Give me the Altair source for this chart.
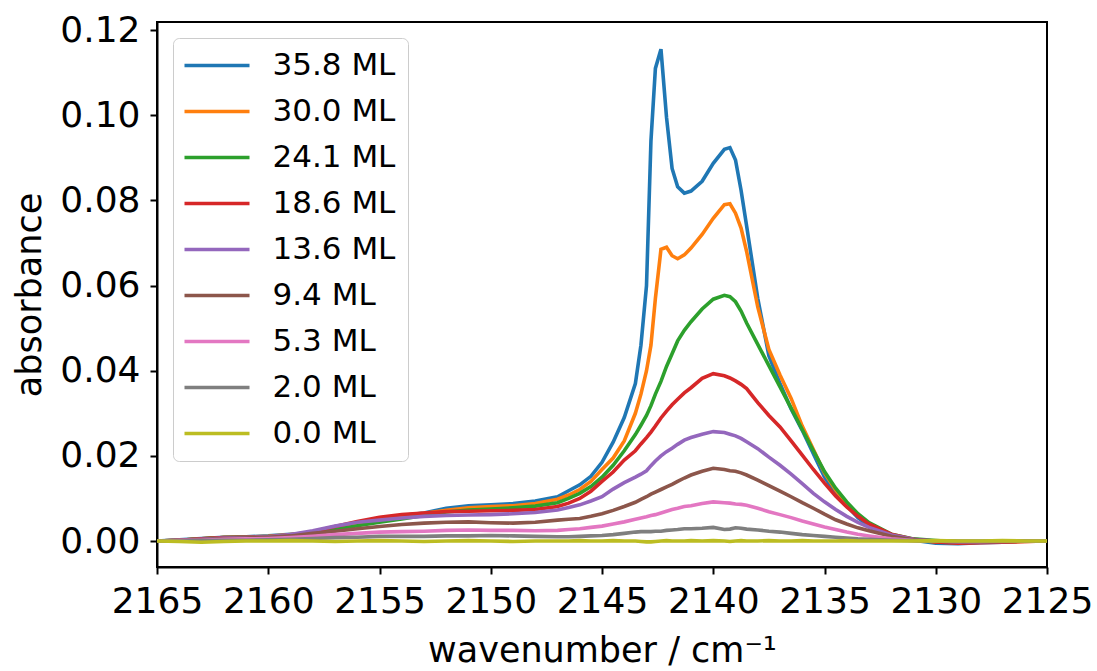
import altair as alt
import pandas as pd

wavenumber = [2165, 2164, 2163, 2162, 2161, 2160, 2159, 2158, 2157, 2156, 2155, 2154, 2153, 2152, 2151, 2150, 2149, 2148, 2147,
              2146.5, 2146, 2145.5, 2145, 2144.5, 2144, 2143.5, 2143.25, 2143,
              2142.8, 2142.6, 2142.35, 2142.1, 2141.85, 2141.6, 2141.3, 2141,
              2140.5, 2140, 2139.5, 2139.25, 2139, 2138.75, 2138.5, 2138,
              2137.5, 2137, 2136.5, 2136, 2135.5, 2135, 2134.5, 2134, 2133.5, 2133,
              2132, 2131, 2130, 2129, 2128, 2127, 2126, 2125]

labels = ["35.8 ML", "30.0 ML", "24.1 ML", "18.6 ML", "13.6 ML", "9.4 ML", "5.3 ML", "2.0 ML", "0.0 ML"]
colors = ["#1f77b4", "#ff7f0e", "#2ca02c", "#d62728", "#9467bd", "#8c564b", "#e377c2", "#7f7f7f", "#bcbd22"]

a_358 = [0.0, 0.0003, 0.0006, 0.0009, 0.0010, 0.0012, 0.0016, 0.0020, 0.0030, 0.0040, 0.0053, 0.0060, 0.0066, 0.0077, 0.0083, 0.0085, 0.0088, 0.0094, 0.0104,
         0.0118, 0.0132, 0.0152, 0.0185, 0.0232, 0.0290, 0.0370, 0.0460, 0.0600,
         0.0940, 0.1110, 0.1155, 0.0995, 0.0875, 0.0832, 0.0817, 0.0822,
         0.0845, 0.0887, 0.0920, 0.0924, 0.0895, 0.0824, 0.0740, 0.0570,
         0.0435, 0.0370, 0.0310, 0.0260, 0.0205, 0.0150, 0.0112, 0.0083, 0.0055, 0.0035,
         0.0011, 0.0002, -0.0005, -0.0006, -0.0004, -0.0003, 0.0, 0.0]
a_300 = [0.0, 0.0002, 0.0005, 0.0008, 0.0009, 0.0011, 0.0015, 0.0020, 0.0030, 0.0041, 0.0053, 0.0060, 0.0065, 0.0072, 0.0078, 0.0081, 0.0083, 0.0088, 0.0098,
         0.0108, 0.0121, 0.0140, 0.0168, 0.0195, 0.0235, 0.0300, 0.0345, 0.0400,
         0.0460, 0.0570, 0.0685, 0.0690, 0.0670, 0.0663, 0.0672, 0.0688,
         0.0720, 0.0758, 0.0790, 0.0792, 0.0770, 0.0735, 0.0680, 0.0550,
         0.0450, 0.0390, 0.0335, 0.0270, 0.0215, 0.0160, 0.0120, 0.0088, 0.0060, 0.0040,
         0.0014, 0.0003, -0.0002, -0.0004, -0.0003, -0.0002, -0.0001, 0.0]
a_241 = [0.0, 0.0002, 0.0005, 0.0008, 0.0009, 0.0010, 0.0014, 0.0019, 0.0027, 0.0036, 0.0044, 0.0052, 0.0060, 0.0068, 0.0073, 0.0075, 0.0078, 0.0082, 0.0090,
         0.0100, 0.0112, 0.0128, 0.0150, 0.0178, 0.0212, 0.0250, 0.0272, 0.0295,
         0.0318, 0.0345, 0.0375, 0.0410, 0.0440, 0.0470, 0.0495, 0.0515,
         0.0545, 0.0568, 0.0577, 0.0574, 0.0562, 0.0540, 0.0512, 0.0462,
         0.0412, 0.0362, 0.0312, 0.0262, 0.0212, 0.0163, 0.0124, 0.0092, 0.0064, 0.0043,
         0.0016, 0.0005, 0.0001, -0.0002, -0.0002, -0.0001, 0.0, 0.0]
a_186 = [0.0, 0.0002, 0.0005, 0.0008, 0.0009, 0.0010, 0.0014, 0.0022, 0.0034, 0.0046, 0.0056, 0.0062, 0.0066, 0.0069, 0.0070, 0.0071, 0.0072, 0.0074, 0.0081,
         0.0089, 0.0100, 0.0117, 0.0140, 0.0162, 0.0190, 0.0212, 0.0228, 0.0243,
         0.0256, 0.0270, 0.0289, 0.0305, 0.0320, 0.0333, 0.0348, 0.0360,
         0.0382, 0.0393, 0.0388, 0.0383, 0.0376, 0.0368, 0.0358, 0.0325,
         0.0295, 0.0268, 0.0235, 0.0202, 0.0168, 0.0136, 0.0106, 0.0080, 0.0058, 0.0040,
         0.0016, 0.0004, -0.0002, -0.0005, -0.0004, -0.0003, -0.0001, 0.0]
a_136 = [0.0, 0.0002, 0.0004, 0.0007, 0.0008, 0.0010, 0.0015, 0.0024, 0.0035, 0.0044, 0.0049, 0.0054, 0.0058, 0.0060, 0.0061, 0.0062, 0.0064, 0.0067, 0.0073,
         0.0079, 0.0085, 0.0094, 0.0104, 0.0122, 0.0137, 0.0150, 0.0157, 0.0165,
         0.0177, 0.0188, 0.0200, 0.0210, 0.0218, 0.0227, 0.0237, 0.0243,
         0.0251, 0.0257, 0.0255, 0.0251, 0.0247, 0.0241, 0.0233, 0.0217,
         0.0197, 0.0178, 0.0157, 0.0135, 0.0112, 0.0092, 0.0074, 0.0058, 0.0044, 0.0032,
         0.0014, 0.0004, 0.0000, -0.0002, -0.0002, -0.0001, 0.0, 0.0]
a_94 = [0.0, 0.0001, 0.0003, 0.0006, 0.0007, 0.0009, 0.0012, 0.0018, 0.0023, 0.0029, 0.0034, 0.0039, 0.0042, 0.0044, 0.0045, 0.0043, 0.0042, 0.0044, 0.0049,
        0.0051, 0.0053, 0.0058, 0.0064, 0.0072, 0.0081, 0.0091, 0.0098, 0.0104,
        0.0110, 0.0115, 0.0121, 0.0127, 0.0133, 0.0140, 0.0148, 0.0155,
        0.0164, 0.0171, 0.0168, 0.0165, 0.0164, 0.0160, 0.0155, 0.0143,
        0.0130, 0.0117, 0.0104, 0.0090, 0.0077, 0.0063, 0.0050, 0.0040, 0.0031, 0.0024,
        0.0011, 0.0003, 0.0000, -0.0002, -0.0002, -0.0001, 0.0, 0.0]
a_53 = [0.0, 0.0001, 0.0002, 0.0004, 0.0005, 0.0006, 0.0008, 0.0011, 0.0015, 0.0018, 0.0021, 0.0022, 0.0023, 0.0025, 0.0026, 0.0025, 0.0025, 0.0024, 0.0025,
        0.0027, 0.0029, 0.0032, 0.0035, 0.0040, 0.0045, 0.0051, 0.0054, 0.0057,
        0.0060, 0.0062, 0.0066, 0.0070, 0.0074, 0.0077, 0.0081, 0.0083,
        0.0088, 0.0092, 0.0090, 0.0089, 0.0087, 0.0086, 0.0084, 0.0077,
        0.0069, 0.0062, 0.0055, 0.0047, 0.0040, 0.0033, 0.0027, 0.0021, 0.0016, 0.0012,
        0.0005, 0.0001, 0.0, -0.0001, -0.0001, 0.0, 0.0, 0.0]
a_20 = [0.0, 0.0, 0.0001, 0.0002, 0.0002, 0.0003, 0.0004, 0.0006, 0.0008, 0.0009, 0.0011, 0.0011, 0.0011, 0.0012, 0.0012, 0.0013, 0.0012, 0.0011, 0.0010,
        0.0010, 0.0011, 0.0012, 0.0013, 0.0015, 0.0018, 0.0021, 0.0022, 0.0022,
        0.0022, 0.0023, 0.0023, 0.0025, 0.0026, 0.0027, 0.0029, 0.0029,
        0.0030, 0.0032, 0.0027, 0.0028, 0.0031, 0.0030, 0.0028, 0.0026,
        0.0023, 0.0021, 0.0018, 0.0015, 0.0013, 0.0011, 0.0009, 0.0007, 0.0005, 0.0004,
        0.0002, 0.0001, 0.0, 0.0, 0.0, 0.0, 0.0, 0.0]
a_00 = [0.0, -0.0001, -0.0003, -0.0001, 0.0, 0.0, 0.0001, 0.0, -0.0001, 0.0, 0.0001, 0.0, -0.0001, 0.0, 0.0001, 0.0, -0.0001, 0.0, 0.0,
        0.0, 0.0001, 0.0, 0.0, 0.0001, 0.0, 0.0, -0.0001, -0.0002,
        -0.0002, -0.0001, 0.0, 0.0001, 0.0, 0.0, 0.0, 0.0001,
        0.0, 0.0001, 0.0, -0.0001, 0.0, 0.0001, 0.0, 0.0,
        0.0001, 0.0, 0.0, 0.0001, 0.0, 0.0, 0.0, 0.0001, 0.0, 0.0,
        0.0, 0.0, 0.0001, 0.0, 0.0, 0.0001, 0.0, 0.0]

x_ticks = [2165, 2160, 2155, 2150, 2145, 2140, 2135, 2130, 2125]
y_ticks = [0.00, 0.02, 0.04, 0.06, 0.08, 0.10, 0.12]

series = [a_358, a_300, a_241, a_186, a_136, a_94, a_53, a_20, a_00]
rows = []
for lab, vals in zip(labels, series):
    for wn, v in zip(wavenumber, vals):
        rows.append({"wavenumber": wn, "absorbance": v, "coverage": lab})
df = pd.DataFrame(rows)

FONT = "DejaVu Sans"

chart = alt.Chart(df).mark_line(strokeWidth=3.6, clip=True).encode(
    x=alt.X("wavenumber:Q",
            scale=alt.Scale(domain=[2125, 2165], reverse=True, nice=False, zero=False),
            axis=alt.Axis(values=x_ticks, format="d", title="wavenumber / cm⁻¹",
                          labelPadding=10, titlePadding=14, labelOverlap=False,
                          labelFlush=False)),
    y=alt.Y("absorbance:Q",
            scale=alt.Scale(domain=[-0.0061, 0.1219], nice=False, zero=False),
            axis=alt.Axis(values=y_ticks, format=".2f", title="absorbance",
                          labelPadding=10, titlePadding=12, labelOverlap=False,
                          labelFlush=False)),
    color=alt.Color("coverage:N",
                    scale=alt.Scale(domain=labels, range=colors),
                    sort=labels,
                    legend=alt.Legend(title=None, orient="top-left", offset=16,
                                      symbolType="M-2.5,0H2.5", symbolSize=676,
                                      symbolOffset=16.5,
                                      symbolStrokeWidth=3.6, labelFontSize=31,
                                      labelFont=FONT, labelColor="black",
                                      labelOffset=40, rowPadding=14,
                                      padding=12, fillColor="white",
                                      strokeColor="#cccccc",
                                      cornerRadius=6, labelLimit=400)),
).properties(
    width=890, height=545,
    autosize=alt.AutoSizeParams(type="none"),
    padding={"left": 157, "top": 22, "right": 50, "bottom": 104},
).configure_view(
    stroke="black", strokeWidth=2
).configure_axis(
    labelFont=FONT, titleFont=FONT, labelFontSize=36, titleFontSize=35,
    labelColor="black", titleColor="black", titleFontWeight="normal",
    domainColor="black", domainWidth=2, tickColor="black", tickWidth=2, tickSize=7,
    grid=False,
)

chart.save("out.html", embed_options={"renderer": "svg", "actions": False})
